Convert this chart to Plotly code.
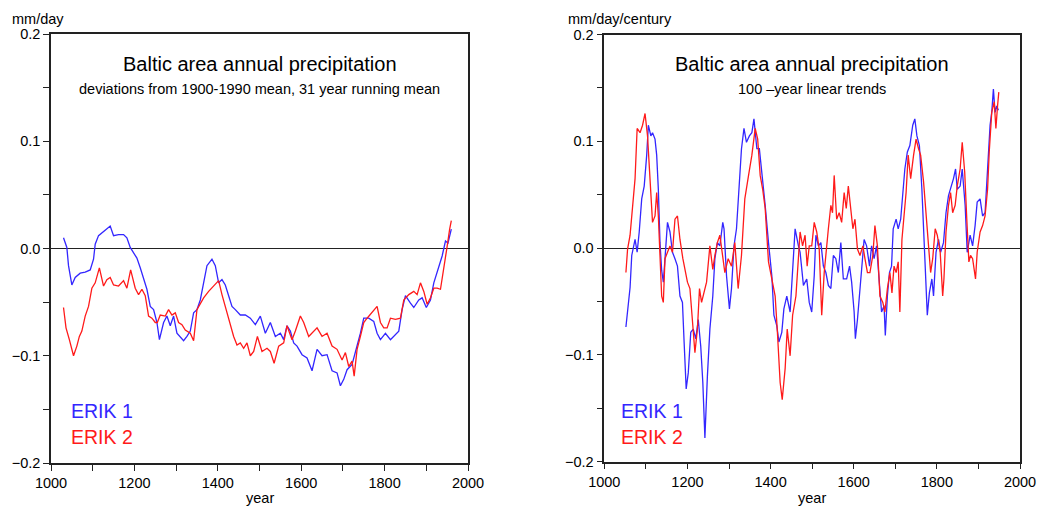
import plotly.graph_objects as go

# ---------------- data ----------------
# Left panel: deviations from 1900-1990 mean, 31-year running mean (mm/day)
run_years_erik1 = [
    1030, 1038, 1042, 1050, 1058, 1070, 1082, 1094, 1102, 1106,
    1114, 1126, 1142, 1150, 1162, 1174, 1182, 1190, 1198, 1206,
    1214, 1222, 1230, 1238, 1246, 1254, 1260, 1270, 1278, 1286,
    1294, 1302, 1310, 1318, 1326, 1334, 1342, 1350, 1358, 1366,
    1374, 1382, 1386, 1394, 1402, 1410, 1418, 1426, 1434, 1442,
    1454, 1466, 1478, 1490, 1502, 1514, 1526, 1538, 1550, 1558,
    1566, 1574, 1582, 1590, 1602, 1614, 1626, 1638, 1650, 1662,
    1674, 1686, 1694, 1702, 1710, 1722, 1734, 1742, 1750, 1762,
    1774, 1782, 1790, 1802, 1814, 1826, 1834, 1842, 1850, 1862,
    1870, 1882, 1890, 1900, 1910, 1918, 1930, 1938, 1946, 1952,
    1960]
run_vals_erik1 = [
    0.010, 0.001, -0.016, -0.034, -0.027, -0.023, -0.022, -0.020, -0.010, 0.004,
    0.012, 0.016, 0.021, 0.012, 0.013, 0.013, 0.010, 0.001, -0.004, -0.009,
    -0.018, -0.029, -0.038, -0.054, -0.057, -0.069, -0.085, -0.069, -0.063, -0.072,
    -0.063, -0.079, -0.083, -0.086, -0.082, -0.077, -0.060, -0.057, -0.048, -0.032,
    -0.016, -0.012, -0.010, -0.016, -0.032, -0.029, -0.034, -0.044, -0.054, -0.057,
    -0.062, -0.062, -0.065, -0.071, -0.063, -0.079, -0.069, -0.082, -0.079, -0.085,
    -0.072, -0.077, -0.088, -0.091, -0.099, -0.102, -0.114, -0.094, -0.100, -0.099,
    -0.114, -0.116, -0.128, -0.122, -0.113, -0.108, -0.091, -0.079, -0.065, -0.065,
    -0.068, -0.079, -0.085, -0.079, -0.085, -0.080, -0.077, -0.057, -0.044, -0.051,
    -0.055, -0.048, -0.046, -0.055, -0.048, -0.032, -0.016, -0.007, 0.007, 0.005,
    0.018]

run_years_erik2 = [
    1030, 1036, 1044, 1054, 1062, 1068, 1074, 1082, 1090, 1098,
    1106, 1116, 1126, 1134, 1142, 1150, 1162, 1174, 1182, 1191,
    1202, 1210, 1218, 1226, 1234, 1242, 1250, 1255, 1262, 1274,
    1282, 1290, 1298, 1306, 1314, 1322, 1334, 1342, 1350, 1358,
    1366, 1378, 1390, 1402, 1410, 1418, 1430, 1438, 1446, 1454,
    1462, 1470, 1478, 1486, 1495, 1506, 1518, 1526, 1535, 1546,
    1558, 1566, 1578, 1586, 1598, 1606, 1618, 1630, 1638, 1650,
    1662, 1674, 1686, 1698, 1706, 1714, 1722, 1727, 1734, 1742,
    1750, 1758, 1770, 1782, 1790, 1798, 1806, 1814, 1826, 1838,
    1846, 1858, 1870, 1878, 1886, 1894, 1902, 1910, 1918, 1926,
    1934, 1942, 1950, 1956, 1960]
run_vals_erik2 = [
    -0.055, -0.074, -0.085, -0.100, -0.091, -0.082, -0.077, -0.063, -0.054, -0.037,
    -0.032, -0.018, -0.035, -0.029, -0.027, -0.034, -0.035, -0.030, -0.037, -0.020,
    -0.037, -0.043, -0.038, -0.044, -0.063, -0.065, -0.069, -0.069, -0.062, -0.063,
    -0.057, -0.062, -0.060, -0.069, -0.071, -0.076, -0.079, -0.086, -0.057, -0.051,
    -0.046, -0.040, -0.035, -0.030, -0.043, -0.054, -0.069, -0.082, -0.090, -0.088,
    -0.093, -0.088, -0.100, -0.096, -0.082, -0.096, -0.093, -0.096, -0.107, -0.091,
    -0.088, -0.072, -0.085, -0.077, -0.063, -0.069, -0.082, -0.077, -0.074, -0.082,
    -0.079, -0.091, -0.094, -0.104, -0.097, -0.110, -0.105, -0.119, -0.094, -0.082,
    -0.069, -0.065, -0.060, -0.054, -0.069, -0.074, -0.074, -0.065, -0.066, -0.065,
    -0.048, -0.043, -0.040, -0.043, -0.032, -0.040, -0.052, -0.046, -0.037, -0.037,
    -0.038, -0.020, 0.002, 0.018, 0.026]

# Right panel: 100-year linear trends (mm/day/century)
trend_years_erik1 = [
    1052, 1058, 1062, 1066, 1070, 1074, 1079, 1084, 1090, 1096,
    1102, 1106, 1112, 1116, 1122, 1126, 1130, 1134, 1138, 1142,
    1146, 1152, 1158, 1164, 1170, 1176, 1182, 1188, 1192, 1197,
    1202, 1208, 1214, 1220, 1226, 1232, 1237, 1242, 1248, 1254,
    1261, 1266, 1272, 1278, 1285, 1288, 1294, 1301, 1306, 1312,
    1318, 1325, 1330, 1336, 1342, 1349, 1355, 1360, 1367, 1373,
    1379, 1387, 1395, 1403, 1408, 1415, 1420, 1427, 1432, 1439,
    1447, 1455, 1459, 1467, 1471, 1479, 1487, 1493, 1499, 1505,
    1509, 1515, 1521, 1527, 1533, 1539, 1545, 1551, 1557, 1563,
    1569, 1575, 1583, 1590, 1595, 1601, 1604, 1609, 1614, 1619,
    1625, 1631, 1638, 1643, 1649, 1655, 1662, 1667, 1673, 1676,
    1681, 1686, 1691, 1695, 1702, 1707, 1713, 1718, 1723, 1729,
    1735, 1742, 1747, 1752, 1758, 1764, 1769, 1774, 1777, 1782,
    1788, 1792, 1798, 1804, 1809, 1816, 1822, 1828, 1833, 1840,
    1845, 1849, 1856, 1861, 1868, 1873, 1880, 1886, 1892, 1897,
    1904, 1910, 1916, 1922, 1928, 1932, 1936, 1940, 1944, 1948]
trend_vals_erik1 = [
    -0.074, -0.051, -0.037, -0.007, 0.002, 0.008, -0.004, 0.015, 0.046, 0.058,
    0.087, 0.115, 0.105, 0.108, 0.102, 0.087, 0.055, 0.005, -0.021, -0.032,
    -0.010, 0.024, 0.015, -0.004, -0.010, -0.017, -0.045, -0.051, -0.088, -0.132,
    -0.117, -0.079, -0.076, -0.085, -0.067, -0.092, -0.126, -0.178, -0.120, -0.076,
    -0.045, -0.010, 0.005, 0.002, 0.024, 0.018, -0.026, -0.057, -0.038, 0.002,
    0.018, 0.068, 0.093, 0.112, 0.099, 0.105, 0.108, 0.121, 0.093, 0.093,
    0.071, 0.040, 0.005, -0.026, -0.063, -0.073, -0.088, -0.079, -0.057, -0.045,
    -0.060, -0.007, 0.018, 0.002, -0.004, -0.035, -0.029, -0.051, -0.060, -0.026,
    0.012, 0.002, 0.005, -0.017, -0.023, -0.035, -0.038, -0.007, -0.010, -0.023,
    0.005, -0.029, -0.029, -0.017, -0.032, -0.060, -0.085, -0.067, -0.045, -0.017,
    0.008, 0.002, -0.017, 0.002, -0.010, 0.002, -0.035, -0.060, -0.054, -0.082,
    -0.045, -0.023, -0.017, 0.018, 0.027, 0.018, 0.027, 0.049, 0.074, 0.090,
    0.096, 0.115, 0.121, 0.105, 0.096, 0.055, 0.015, -0.029, -0.063, -0.042,
    -0.029, -0.045, -0.004, 0.008, -0.004, 0.005, 0.033, 0.049, 0.055, 0.065,
    0.074, 0.055, 0.058, 0.074, 0.040, -0.004, 0.012, 0.002, 0.021, 0.043,
    0.046, 0.030, 0.033, 0.071, 0.115, 0.127, 0.149, 0.127, 0.133, 0.129]

trend_years_erik2 = [
    1052, 1056, 1062, 1068, 1074, 1079, 1086, 1092, 1098, 1104,
    1110, 1116, 1122, 1126, 1130, 1134, 1138, 1142, 1146, 1152,
    1158, 1164, 1170, 1176, 1182, 1189, 1194, 1200, 1206, 1213,
    1218, 1224, 1229, 1234, 1240, 1246, 1254, 1261, 1266, 1272,
    1278, 1285, 1290, 1298, 1306, 1314, 1322, 1330, 1338, 1347,
    1355, 1363, 1369, 1375, 1381, 1387, 1395, 1403, 1411, 1416,
    1423, 1428, 1435, 1440, 1447, 1453, 1461, 1471, 1477, 1483,
    1488, 1493, 1499, 1505, 1511, 1517, 1523, 1529, 1533, 1539,
    1545, 1549, 1553, 1559, 1565, 1571, 1577, 1582, 1587, 1591,
    1598, 1603, 1609, 1615, 1622, 1627, 1633, 1639, 1646, 1651,
    1657, 1663, 1670, 1675, 1681, 1687, 1692, 1697, 1702, 1707,
    1711, 1716, 1721, 1726, 1731, 1737, 1744, 1750, 1756, 1761,
    1768, 1774, 1780, 1785, 1790, 1796, 1801, 1808, 1814, 1817,
    1822, 1828, 1833, 1838, 1844, 1849, 1856, 1861, 1867, 1872,
    1877, 1881, 1886, 1893, 1897, 1904, 1910, 1916, 1922, 1926,
    1932, 1938, 1942, 1946, 1949]
trend_vals_erik2 = [
    -0.023, -0.001, 0.012, 0.037, 0.065, 0.112, 0.108, 0.115, 0.126, 0.105,
    0.065, 0.024, 0.030, 0.052, 0.030, -0.007, -0.045, -0.051, -0.010, -0.004,
    0.002, -0.004, 0.027, 0.030, 0.008, -0.010, -0.020, -0.032, -0.038, -0.076,
    -0.098, -0.076, -0.038, -0.051, -0.042, -0.032, 0.002, -0.020, -0.007, 0.005,
    0.012, -0.007, -0.023, -0.010, -0.017, 0.005, -0.038, -0.007, 0.046, 0.068,
    0.087, 0.112, 0.102, 0.068, 0.055, 0.037, -0.013, -0.029, -0.045, -0.076,
    -0.126, -0.142, -0.113, -0.076, -0.101, -0.063, -0.045, 0.015, 0.002, 0.012,
    -0.017, 0.002, 0.002, 0.024, 0.015, -0.001, -0.063, -0.023, -0.004, 0.018,
    0.040, 0.033, 0.068, 0.027, 0.033, 0.024, 0.052, 0.037, 0.058, 0.043,
    0.018, 0.027, -0.001, -0.007, 0.002, -0.010, -0.023, -0.023, -0.007, 0.021,
    0.002, -0.045, -0.051, -0.060, -0.038, -0.023, -0.042, -0.017, -0.023, -0.013,
    -0.060, 0.008, 0.033, 0.052, 0.087, 0.065, 0.087, 0.102, 0.093, 0.087,
    0.062, 0.027, 0.002, -0.023, -0.010, 0.018, 0.012, -0.004, -0.045, -0.029,
    0.015, 0.040, 0.052, 0.033, 0.040, 0.058, 0.074, 0.099, 0.071, 0.027,
    -0.013, -0.007, -0.010, -0.029, -0.004, 0.015, 0.021, 0.030, 0.055, 0.090,
    0.127, 0.137, 0.112, 0.133, 0.146]

series_names = ["ERIK 1", "ERIK 2"]
panel_titles = ["Baltic area annual precipitation", "Baltic area annual precipitation"]
panel_subtitles = ["deviations from 1900-1990 mean, 31 year running mean",
                   "100 \u2013year linear trends"]
panel_units = ["mm/day", "mm/day/century"]
x_label = "year"

# ---------------- style ----------------
BLUE = "#3326ff"
RED = "#ff1a1a"
FONT = "Liberation Sans, Arial, sans-serif"
W, H = 1046, 506

fig = go.Figure()
fig.add_trace(go.Scatter(x=run_years_erik1, y=run_vals_erik1, mode="lines",
                         line=dict(color=BLUE, width=1.3), xaxis="x", yaxis="y",
                         name=series_names[0], showlegend=False))
fig.add_trace(go.Scatter(x=run_years_erik2, y=run_vals_erik2, mode="lines",
                         line=dict(color=RED, width=1.3), xaxis="x", yaxis="y",
                         name=series_names[1], showlegend=False))
fig.add_trace(go.Scatter(x=trend_years_erik1, y=trend_vals_erik1, mode="lines",
                         line=dict(color=BLUE, width=1.3), xaxis="x2", yaxis="y2",
                         name=series_names[0], showlegend=False))
fig.add_trace(go.Scatter(x=trend_years_erik2, y=trend_vals_erik2, mode="lines",
                         line=dict(color=RED, width=1.3), xaxis="x2", yaxis="y2",
                         name=series_names[1], showlegend=False))

def xax(domain, anchor):
    return dict(domain=domain, anchor=anchor, range=[1000, 2000], tick0=1000, dtick=200,
                ticks="outside", ticklen=6, tickwidth=1, tickcolor="#222",
                minor=dict(dtick=100, ticks="outside", ticklen=6, tickcolor="#222"),
                showline=True, mirror=True, linecolor="#222", linewidth=1.5,
                showgrid=False, zeroline=False, fixedrange=True, automargin=False,
                tickfont=dict(size=14.5, color="black", family=FONT))

def yax(domain, anchor):
    return dict(domain=domain, anchor=anchor, range=[-0.2, 0.2], tick0=0, dtick=0.1,
                tickformat=".1f",
                ticks="outside", ticklen=6, tickwidth=1, tickcolor="#222",
                minor=dict(dtick=0.05, ticks="outside", ticklen=6, tickcolor="#222"),
                showline=True, mirror=True, linecolor="#222", linewidth=1.5,
                showgrid=False, zeroline=True, zerolinecolor="#222", zerolinewidth=1,
                fixedrange=True, automargin=False,
                tickfont=dict(size=14.5, color="black", family=FONT))

left_x = [51 / W, 468 / W]
right_x = [604.3 / W, 1020 / W]
left_y = [1 - 463 / H, 1 - 34 / H]
right_y = [1 - 461.5 / H, 1 - 34.5 / H]

annotations = []
for i, (xd, xr) in enumerate([(left_x, "x"), (right_x, "x2")]):
    xdom = "x domain" if i == 0 else "x2 domain"
    annotations += [
        dict(text=panel_titles[i], xref=xdom, x=0.5, yref="paper", y=1 - 64 / H,
             xanchor="center", yanchor="middle", showarrow=False,
             font=dict(size=20, color="black", family=FONT)),
        dict(text=panel_subtitles[i], xref=xdom, x=0.5, yref="paper", y=1 - 89 / H,
             xanchor="center", yanchor="middle", showarrow=False,
             font=dict(size=14.5, color="black", family=FONT)),
        dict(text=x_label, xref=xdom, x=0.5, yref="paper", y=1 - 498 / H,
             xanchor="center", yanchor="middle", showarrow=False,
             font=dict(size=14.5, color="black", family=FONT)),
    ]
annotations += [
    dict(text=panel_units[0], xref="paper", x=10 / W, yref="paper", y=1 - 19 / H,
         xanchor="left", yanchor="middle", showarrow=False,
         font=dict(size=14.5, color="black", family=FONT)),
    dict(text=panel_units[1], xref="paper", x=566 / W, yref="paper", y=1 - 19 / H,
         xanchor="left", yanchor="middle", showarrow=False,
         font=dict(size=14.5, color="black", family=FONT)),
]
for lx in [69 / W, 619 / W]:
    annotations += [
        dict(text=series_names[0], xref="paper", x=lx, yref="paper", y=1 - 411 / H,
             xanchor="left", yanchor="middle", showarrow=False,
             font=dict(size=19.5, color=BLUE, family=FONT)),
        dict(text=series_names[1], xref="paper", x=lx, yref="paper", y=1 - 437 / H,
             xanchor="left", yanchor="middle", showarrow=False,
             font=dict(size=19.5, color=RED, family=FONT)),
    ]

fig.update_layout(
    width=W, height=H, margin=dict(l=0, r=0, t=0, b=0, autoexpand=False),
    paper_bgcolor="white", plot_bgcolor="white",
    font=dict(family=FONT, color="black"),
    xaxis=xax(left_x, "y"), yaxis=yax(left_y, "x"),
    xaxis2=xax(right_x, "y2"), yaxis2=yax(right_y, "x2"),
    annotations=annotations, showlegend=False,
)

fig.write_html("out.html")
